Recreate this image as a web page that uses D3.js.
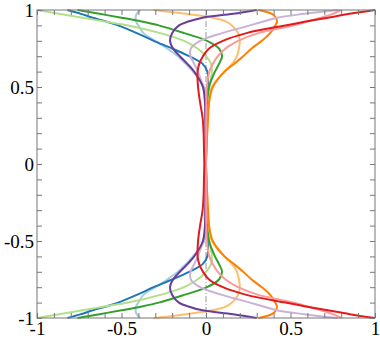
<!DOCTYPE html>
<html>
<head>
<meta charset="utf-8">
<script src="https://cdn.jsdelivr.net/npm/d3@7"></script>
<style>
body { margin: 0; background: #fff; }
</style>
</head>
<body>
<svg id="chart" width="380" height="338"></svg>
<script>
// y positions where each profile was sampled (top to bottom)
var yGrid = [1, 0.975, 0.95, 0.925, 0.9, 0.85, 0.8, 0.75, 0.7, 0.65, 0.6, 0.5, 0.4, 0.3, 0.2, 0.1, 0,
  -0.1, -0.2, -0.3, -0.4, -0.5, -0.6, -0.65, -0.7, -0.75, -0.8, -0.85, -0.9, -0.925, -0.95, -0.975, -1];

// x value of each profile at the yGrid positions
var lightBlue = [-0.39, -0.41, -0.417, -0.414, -0.40, -0.37, -0.30, -0.23, -0.166, -0.12, -0.077, -0.01, 0.01, 0.008, 0.005, 0.002, 0,
  0.002, 0.005, 0.008, 0.01, -0.01, -0.077, -0.12, -0.166, -0.23, -0.30, -0.37, -0.40, -0.414, -0.417, -0.41, -0.39];
var blue = [-0.82, -0.74, -0.67, -0.59, -0.52, -0.41, -0.31, -0.20, -0.10, -0.02, 0.008, 0.012, 0.008, 0.005, 0.003, 0.001, 0,
  0.001, 0.003, 0.005, 0.008, 0.012, 0.008, -0.02, -0.10, -0.20, -0.31, -0.41, -0.52, -0.59, -0.67, -0.74, -0.82];
var lightGreen = [-1, -0.87, -0.73, -0.60, -0.46, -0.27, -0.13, -0.05, 0.0, 0.03, 0.035, 0.02, 0.012, 0.008, 0.005, 0.002, 0,
  0.002, 0.005, 0.008, 0.012, 0.02, 0.035, 0.03, 0.0, -0.05, -0.13, -0.27, -0.46, -0.60, -0.73, -0.87, -1];
var green = [-0.76, -0.63, -0.50, -0.38, -0.28, -0.13, 0.006, 0.077, 0.095, 0.077, 0.053, 0.018, 0.008, 0.005, 0.003, 0.001, 0,
  0.001, 0.003, 0.005, 0.008, 0.018, 0.053, 0.077, 0.095, 0.077, 0.006, -0.13, -0.28, -0.38, -0.50, -0.63, -0.76];
var pink = [0.80, 0.75, 0.68, 0.60, 0.52, 0.31, 0.19, 0.115, 0.07, 0.04, 0.02, 0.005, 0.002, 0.001, 0.001, 0, 0,
  0, 0.001, 0.001, 0.002, 0.005, 0.02, 0.04, 0.07, 0.115, 0.19, 0.31, 0.52, 0.60, 0.68, 0.75, 0.80];
var red = [1.0, 0.85, 0.72, 0.59, 0.47, 0.24, 0.10, 0.018, -0.018, -0.04, -0.05, -0.047, -0.035, -0.02, -0.014, -0.012, -0.01,
  -0.012, -0.014, -0.02, -0.035, -0.047, -0.05, -0.04, -0.018, 0.018, 0.10, 0.24, 0.47, 0.59, 0.72, 0.85, 1.0];
var lightOrange = [-0.31, -0.12, 0.04, 0.12, 0.154, 0.19, 0.20, 0.195, 0.183, 0.154, 0.107, 0.036, 0.018, 0.012, 0.007, 0.003, 0,
  0.003, 0.007, 0.012, 0.018, 0.036, 0.107, 0.154, 0.183, 0.195, 0.20, 0.19, 0.154, 0.12, 0.04, -0.12, -0.31];
var orange = [0.31, 0.39, 0.414, 0.42, 0.41, 0.38, 0.33, 0.27, 0.22, 0.166, 0.11, 0.04, 0.018, 0.012, 0.007, 0.003, 0,
  0.003, 0.007, 0.012, 0.018, 0.04, 0.11, 0.166, 0.22, 0.27, 0.33, 0.38, 0.41, 0.42, 0.414, 0.39, 0.31];
var lightPurple = [0.78, 0.58, 0.42, 0.34, 0.26, 0.095, -0.035, -0.09, -0.092, -0.07, -0.048, -0.018, -0.006, -0.004, -0.002, -0.001, 0,
  -0.001, -0.002, -0.004, -0.006, -0.018, -0.048, -0.07, -0.092, -0.09, -0.035, 0.095, 0.26, 0.34, 0.42, 0.58, 0.78];
var purple = [0.30, 0.16, -0.02, -0.105, -0.16, -0.20, -0.213, -0.195, -0.155, -0.11, -0.07, -0.018, -0.006, -0.004, -0.002, -0.001, 0,
  -0.001, -0.002, -0.004, -0.006, -0.018, -0.07, -0.11, -0.155, -0.195, -0.213, -0.20, -0.16, -0.105, -0.02, 0.16, 0.30];

var xTicks = [-1, -0.5, 0, 0.5, 1];
var yTicks = [-1, -0.5, 0, 0.5, 1];
var minorTicks = d3.range(-10, 11).map(function(i) { return i / 10; });

var series = [
  {values: lightBlue, color: "#a6cee3"},
  {values: blue, color: "#1f78b4"},
  {values: lightGreen, color: "#b2df8a"},
  {values: green, color: "#33a02c"},
  {values: lightOrange, color: "#fdbf6f"},
  {values: orange, color: "#ff7f00"},
  {values: lightPurple, color: "#cab2d6"},
  {values: purple, color: "#6a3d9a"},
  {values: pink, color: "#fb9a99"},
  {values: red, color: "#e31a1c"}
];

var width = 338, height = 308;
var serif = "'Liberation Serif', 'Times New Roman', Times, serif";
var svg = d3.select("#chart");
var g = svg.append("g").attr("transform", "translate(37,10)");

var x = d3.scaleLinear().domain([-1, 1]).range([0, width]);
var y = d3.scaleLinear().domain([-1, 1]).range([height, 0]);

// plain hyphen for negatives, like the original
var fmt = function(d) { return String(d); };

// dash-dot line at x = 0
g.append("line")
    .attr("x1", x(0)).attr("x2", x(0))
    .attr("y1", 0).attr("y2", height)
    .attr("stroke", "#999")
    .attr("stroke-width", 1)
    .attr("stroke-dasharray", "6,2,1,2");

var line = d3.line()
    .x(function(d) { return x(d[0]); })
    .y(function(d) { return y(d[1]); })
    .curve(d3.curveCatmullRom.alpha(0.5));

g.selectAll(".profile")
  .data(series)
  .enter().append("path")
    .attr("class", "profile")
    .attr("fill", "none")
    .attr("stroke", function(d) { return d.color; })
    .attr("stroke-width", 2)
    .attr("d", function(d) {
      return line(d.values.map(function(v, i) { return [v, yGrid[i]]; }));
    });

// minor ticks on all four sides, pointing inward
function minor(axis, tr) {
  var a = g.append("g").attr("transform", tr)
      .call(axis.tickValues(minorTicks).tickSize(-5).tickFormat(""));
  a.select(".domain").remove();
  a.selectAll("line").attr("stroke", "#777");
}
minor(d3.axisBottom(x), "translate(0," + height + ")");
minor(d3.axisTop(x), "translate(0,0)");
minor(d3.axisLeft(y), "translate(0,0)");
minor(d3.axisRight(y), "translate(" + width + ",0)");

// frame
g.append("rect")
    .attr("width", width).attr("height", height)
    .attr("fill", "none")
    .attr("stroke", "#777")
    .attr("stroke-width", 1);

// tick labels
var xAxisG = g.append("g")
    .attr("transform", "translate(0," + height + ")")
    .call(d3.axisBottom(x).tickValues(xTicks).tickSize(0).tickPadding(3).tickFormat(fmt));
xAxisG.select(".domain").remove();
xAxisG.attr("font-family", serif).attr("font-size", 19);
xAxisG.selectAll("text").attr("fill", "#000");

var yAxisG = g.append("g")
    .call(d3.axisLeft(y).tickValues(yTicks).tickSize(0).tickPadding(3).tickFormat(fmt));
yAxisG.select(".domain").remove();
yAxisG.attr("font-family", serif).attr("font-size", 19);
yAxisG.selectAll("text").attr("fill", "#000");
</script>
</body>
</html>
